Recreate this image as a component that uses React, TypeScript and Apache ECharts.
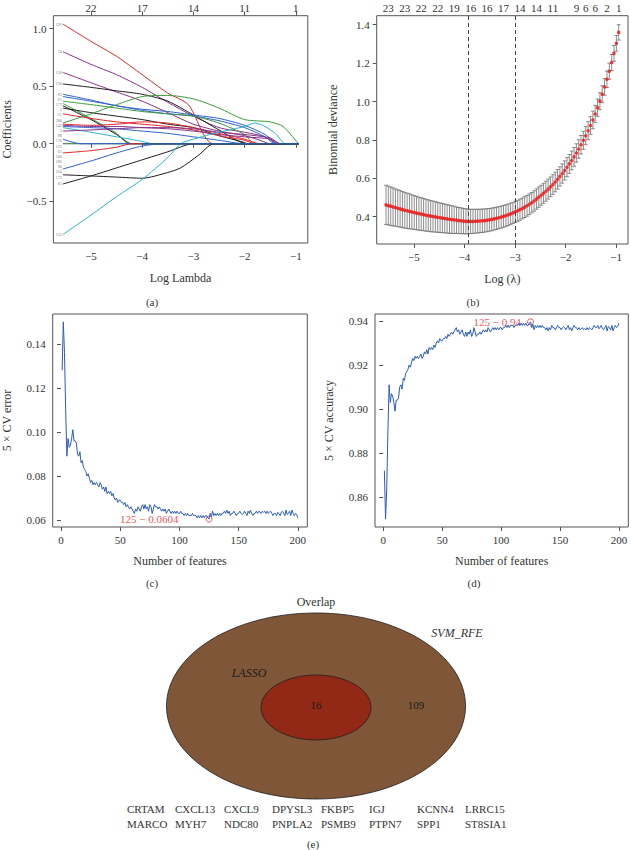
import React, { useEffect, useRef } from "react";
import * as echarts from "echarts";

const SERIF = "'Liberation Serif', 'DejaVu Serif', serif";
const INK = "#333333";
const FRAME = "#555555";

// ---------- (a) LASSO coefficient paths ----------
const aXTicks = [-5, -4, -3, -2, -1];
const aTopLabels = ["22", "17", "14", "11", "1"];
const aYTicks = [-0.5, 0, 0.5, 1.0];
const BLACK = "#1c1c1c", RED = "#e2242a", GREEN = "#3a9b3a", BLUE = "#2d5fd0", CYAN = "#27b6c8", PURPLE = "#86308a";
type Path = { label: string; color: string; points: number[][] };
const coefPaths: Path[] = [
  { label: "126", color: RED, points: [[-5.55, 1.04], [-5.0, 0.89], [-4.5, 0.76], [-4.0, 0.6], [-3.5, 0.44], [-3.1, 0.34], [-2.61, 0]] },
  { label: "74", color: PURPLE, points: [[-5.55, 0.8], [-5.0, 0.69], [-4.5, 0.6], [-4.0, 0.49], [-3.5, 0.36], [-3.0, 0.24], [-2.5, 0.14], [-2.0, 0.1], [-1.6, 0.06], [-1.35, 0]] },
  { label: "158", color: PURPLE, points: [[-5.55, 0.62], [-5.0, 0.53], [-4.5, 0.45], [-4.0, 0.37], [-3.5, 0.27], [-3.0, 0.17], [-2.5, 0.11], [-2.0, 0.07], [-1.7, 0.03], [-1.5, 0]] },
  { label: "130", color: BLACK, points: [[-5.55, 0.52], [-5.0, 0.49], [-4.5, 0.46], [-4.0, 0.43], [-3.5, 0.37], [-3.0, 0.25], [-2.5, 0.12], [-1.95, 0]] },
  { label: "66", color: BLUE, points: [[-5.55, 0.43], [-5.0, 0.38], [-4.5, 0.33], [-4.0, 0.3], [-3.5, 0.28], [-3.0, 0.25], [-2.5, 0.22], [-2.0, 0.16], [-1.6, 0.08], [-1.35, 0]] },
  { label: "61", color: BLUE, points: [[-5.55, 0.41], [-5.0, 0.37], [-4.5, 0.33], [-4.0, 0.29], [-3.5, 0.26], [-3.0, 0.24], [-2.5, 0.2], [-2.0, 0.14], [-1.6, 0.06], [-1.4, 0]] },
  { label: "172", color: GREEN, points: [[-5.55, 0.37], [-5.0, 0.34], [-4.5, 0.31], [-4.0, 0.28], [-3.5, 0.26], [-3.0, 0.24], [-2.5, 0.18], [-2.0, 0.08], [-1.8, 0]] },
  { label: "5", color: GREEN, points: [[-5.55, 0.35], [-5.0, 0.22], [-4.5, 0.09], [-4.25, 0]] },
  { label: "51", color: BLACK, points: [[-5.55, 0.33], [-5.0, 0.21], [-4.5, 0.08], [-4.2, 0]] },
  { label: "200", color: BLACK, points: [[-5.55, 0.31], [-5.0, 0.27], [-4.5, 0.24], [-4.0, 0.21], [-3.5, 0.17], [-3.0, 0.14], [-2.5, 0.07], [-2.0, 0.01], [-1.95, 0]] },
  { label: "142", color: RED, points: [[-5.55, 0.26], [-5.0, 0.22], [-4.5, 0.19], [-4.0, 0.17], [-3.5, 0.15], [-3.0, 0.12], [-2.5, 0.07], [-2.0, 0.03], [-1.8, 0]] },
  { label: "2", color: GREEN, points: [[-5.55, 0.18], [-5.0, 0.26], [-4.5, 0.34], [-4.0, 0.41], [-3.5, 0.42], [-3.0, 0.39], [-2.5, 0.31], [-2.0, 0.21], [-1.5, 0.19], [-1.25, 0.15], [-0.95, 0]] },
  { label: "88", color: RED, points: [[-5.55, 0.17], [-5.0, 0.16], [-4.5, 0.17], [-4.0, 0.19], [-3.5, 0.18], [-3.0, 0.14], [-2.5, 0.09], [-2.0, 0.04], [-1.7, 0]] },
  { label: "176", color: PURPLE, points: [[-5.55, 0.16], [-5.0, 0.15], [-4.5, 0.15], [-4.0, 0.14], [-3.5, 0.13], [-3.0, 0.11], [-2.5, 0.08], [-2.0, 0.06], [-1.5, 0.04], [-1.3, 0]] },
  { label: "132", color: BLUE, points: [[-5.55, 0.15], [-5.0, 0.14], [-4.5, 0.13], [-4.0, 0.11], [-3.5, 0.09], [-3.0, 0.06], [-2.5, 0.03], [-2.0, 0]] },
  { label: "62", color: CYAN, points: [[-5.55, 0.14], [-5.0, 0.1], [-4.5, 0.06], [-4.0, 0.02], [-3.8, 0]] },
  { label: "106", color: PURPLE, points: [[-5.55, 0.11], [-5.0, 0.12], [-4.5, 0.13], [-4.0, 0.14], [-3.5, 0.14], [-3.0, 0.13], [-2.5, 0.1], [-2.0, 0.08], [-1.5, 0.05], [-1.3, 0]] },
  { label: "186", color: BLUE, points: [[-5.55, 0.04], [-5.2, 0]] },
  { label: "90", color: RED, points: [[-5.55, -0.08], [-5.0, -0.06], [-4.5, -0.03], [-4.2, 0]] },
  { label: "224", color: BLUE, points: [[-5.55, -0.22], [-5.0, -0.15], [-4.5, -0.08], [-4.0, -0.02], [-3.6, 0]] },
  { label: "173", color: BLACK, points: [[-5.55, -0.27], [-5.0, -0.28], [-4.5, -0.29], [-4.0, -0.3], [-3.5, -0.25], [-3.25, -0.21], [-2.9, -0.1], [-2.6, 0]] },
  { label: "83", color: BLACK, points: [[-5.55, -0.35], [-5.0, -0.28], [-4.5, -0.21], [-4.0, -0.14], [-3.5, -0.07], [-3.0, 0]] },
  { label: "155", color: CYAN, points: [[-5.55, -0.79], [-5.0, -0.62], [-4.5, -0.46], [-4.0, -0.31], [-3.5, -0.12], [-3.25, 0], [-3.0, 0.04], [-2.5, 0.1], [-2.0, 0.15], [-1.8, 0.18], [-1.6, 0.15], [-1.4, 0.09], [-1.2, 0]] },
];
const aZeroLine = [[-5.55, 0], [-0.95, 0]];

// ---------- (b) cross-validated binomial deviance ----------
const logLambda = [
  -5.55, -5.504, -5.457, -5.411, -5.364, -5.318, -5.271, -5.225, -5.178, -5.132,
  -5.085, -5.039, -4.992, -4.946, -4.899, -4.853, -4.807, -4.76, -4.714, -4.667,
  -4.621, -4.574, -4.528, -4.481, -4.435, -4.388, -4.342, -4.295, -4.249, -4.203,
  -4.156, -4.11, -4.063, -4.017, -3.97, -3.924, -3.877, -3.831, -3.784, -3.738,
  -3.691, -3.645, -3.598, -3.552, -3.506, -3.459, -3.413, -3.366, -3.32, -3.273,
  -3.227, -3.18, -3.134, -3.087, -3.041, -2.994, -2.948, -2.902, -2.855, -2.809,
  -2.762, -2.716, -2.669, -2.623, -2.576, -2.53, -2.483, -2.437, -2.39, -2.344,
  -2.297, -2.251, -2.205, -2.158, -2.112, -2.065, -2.019, -1.972, -1.926, -1.879,
  -1.833, -1.786, -1.74, -1.694, -1.647, -1.601, -1.554, -1.508, -1.461, -1.415,
  -1.368, -1.322, -1.275, -1.229, -1.182, -1.136, -1.089, -1.043, -0.996, -0.95,
];
const devianceMean = [
  0.462, 0.458, 0.455, 0.451, 0.448, 0.444, 0.441, 0.437, 0.434, 0.431, 0.428, 0.425,
  0.422, 0.419, 0.416, 0.414, 0.411, 0.408, 0.406, 0.403, 0.401, 0.399, 0.397, 0.395,
  0.393, 0.391, 0.389, 0.387, 0.385, 0.384, 0.382, 0.38, 0.379, 0.377, 0.376, 0.375,
  0.3755, 0.376, 0.3765, 0.377, 0.378, 0.379, 0.38, 0.382, 0.384, 0.386, 0.389, 0.392,
  0.395, 0.398, 0.402, 0.406, 0.41, 0.415, 0.42, 0.426, 0.431, 0.437, 0.443, 0.45,
  0.457, 0.465, 0.473, 0.482, 0.492, 0.502, 0.512, 0.522, 0.533, 0.544, 0.556, 0.568,
  0.581, 0.595, 0.61, 0.625, 0.641, 0.658, 0.675, 0.693, 0.712, 0.732, 0.753, 0.775,
  0.798, 0.822, 0.848, 0.875, 0.904, 0.935, 0.968, 1.002, 1.038, 1.076, 1.116, 1.158,
  1.203, 1.251, 1.303, 1.36,
];
const devianceSE = [
  0.102, 0.101, 0.1, 0.099, 0.097, 0.096, 0.095, 0.094, 0.093, 0.092, 0.091, 0.089,
  0.088, 0.087, 0.086, 0.085, 0.084, 0.083, 0.082, 0.081, 0.08, 0.079, 0.078, 0.077,
  0.076, 0.075, 0.074, 0.073, 0.072, 0.071, 0.069, 0.068, 0.067, 0.066, 0.065, 0.064,
  0.063, 0.063, 0.062, 0.062, 0.061, 0.061, 0.06, 0.06, 0.059, 0.059, 0.058, 0.058,
  0.057, 0.057, 0.057, 0.056, 0.056, 0.056, 0.055, 0.055,
  0.055, 0.055, 0.054, 0.054, 0.054, 0.054, 0.053, 0.053, 0.053, 0.053, 0.052, 0.052,
  0.052, 0.052, 0.051, 0.051, 0.051, 0.051, 0.05, 0.05,
  0.05, 0.05, 0.049, 0.049, 0.049, 0.048, 0.048, 0.048, 0.047, 0.047, 0.047, 0.046,
  0.046, 0.045, 0.045, 0.044, 0.044, 0.043, 0.043, 0.042, 0.042, 0.041, 0.041, 0.04,
];
const lambdaMinLog = -3.924;
const lambda1seLog = -2.994;
const bXTicks = [-5, -4, -3, -2, -1];
const bYTicks = [0.4, 0.6, 0.8, 1.0, 1.2, 1.4];
const bTopAt = [-5.504, -5.178, -4.853, -4.528, -4.203, -3.877, -3.552, -3.227, -2.902, -2.576, -2.251, -1.786, -1.601, -1.415, -1.182, -0.95];
const bTopLabels = ["23", "23", "22", "22", "19", "16", "16", "17", "14", "14", "11", "9", "6", "6", "2", "1"];

// ---------- (c)/(d) SVM-RFE 5-fold CV ----------
const cvError = [
  0.128, 0.15, 0.136, 0.11, 0.089, 0.097, 0.093, 0.094, 0.097, 0.101,
  0.096, 0.096, 0.095, 0.09, 0.089, 0.091, 0.086, 0.087, 0.084, 0.083,
  0.082, 0.08, 0.081, 0.079, 0.077, 0.078, 0.076, 0.077, 0.076, 0.077,
  0.076, 0.075, 0.077, 0.076, 0.074, 0.075, 0.073, 0.075, 0.072, 0.073,
  0.072, 0.073, 0.071, 0.072, 0.07, 0.069, 0.07, 0.068, 0.069, 0.069,
  0.068, 0.068, 0.067, 0.068, 0.066, 0.067, 0.066, 0.065, 0.066, 0.065,
  0.064, 0.063, 0.065, 0.064, 0.066, 0.065, 0.064, 0.066, 0.067, 0.065,
  0.067, 0.065, 0.066, 0.064, 0.067, 0.066, 0.063, 0.065, 0.067, 0.066,
  0.066, 0.065, 0.066, 0.065, 0.064, 0.065, 0.064, 0.065, 0.063, 0.064,
  0.065, 0.064, 0.063, 0.064, 0.063, 0.064, 0.063, 0.064, 0.063, 0.063,
  0.064, 0.063, 0.063, 0.062, 0.063, 0.062, 0.063, 0.062, 0.062, 0.062,
  0.063, 0.062, 0.062, 0.062, 0.061, 0.062, 0.061, 0.062, 0.061, 0.062,
  0.061, 0.062, 0.062, 0.061, 0.0604, 0.063, 0.0615, 0.064, 0.062, 0.063,
  0.062, 0.063, 0.062, 0.063, 0.062, 0.063, 0.063, 0.064, 0.063, 0.0645,
  0.063, 0.064, 0.062, 0.063, 0.063, 0.064, 0.063, 0.062, 0.063, 0.063,
  0.064, 0.063, 0.0625, 0.063, 0.064, 0.063, 0.062, 0.064, 0.063, 0.0645,
  0.063, 0.062, 0.063, 0.063, 0.064, 0.063, 0.064, 0.0635, 0.063, 0.064,
  0.0635, 0.064, 0.063, 0.064, 0.063, 0.0635, 0.064, 0.063, 0.062, 0.063,
  0.063, 0.062, 0.0635, 0.063, 0.062, 0.0635, 0.064, 0.063, 0.062, 0.0645,
  0.0625, 0.063, 0.064, 0.062, 0.0645, 0.063, 0.062, 0.063, 0.0625, 0.061,
];
// accuracy is the complement of the CV error read above
const cvAccuracy = cvError.map((e) => +(1 - e).toFixed(4));
const bestFeatures = 125;
const bestError = 0.0604;
const bestAccuracy = 0.94;
const featXTicks = [0, 50, 100, 150, 200];
const cYTicks = [0.06, 0.08, 0.1, 0.12, 0.14];
const dYTicks = [0.86, 0.88, 0.9, 0.92, 0.94];

// ---------- (e) overlap ----------
const vennCounts = { overlap: 16, svmOnly: 109 };
const genesRow1 = ["CRTAM", "CXCL13", "CXCL9", "DPYSL3", "FKBP5", "IGJ", "KCNN4", "LRRC15"];
const genesRow2 = ["MARCO", "MYH7", "NDC80", "PNPLA2", "PSMB9", "PTPN7", "SPP1", "ST8SIA1"];

const fmtMinus = (v: number, d: number) => (v < 0 ? "\u2212" + Math.abs(v).toFixed(d) : v.toFixed(d));

function valueAxis(gridIndex: number, min: number, max: number, ticks: number[], digits: number, extra: any = {}) {
  return {
    type: "value",
    gridIndex,
    min,
    max,
    axisLine: { show: false },
    splitLine: { show: false },
    axisTick: { show: true, length: 4, customValues: ticks, lineStyle: { color: FRAME, width: 1 } },
    axisLabel: {
      show: true,
      customValues: ticks,
      color: INK,
      fontSize: 11,
      fontFamily: SERIF,
      margin: 7,
      formatter: (v: number) => fmtMinus(v, digits),
    },
    nameTextStyle: { color: INK, fontSize: 12, fontFamily: SERIF },
    ...extra,
  };
}

function topAxis(gridIndex: number, min: number, max: number, at: number[], labels: string[], ticks: boolean) {
  return {
    type: "value",
    gridIndex,
    position: "top",
    min,
    max,
    axisLine: { show: false },
    splitLine: { show: false },
    axisTick: { show: ticks, length: 4, customValues: at, lineStyle: { color: FRAME } },
    axisLabel: {
      show: true,
      customValues: at,
      color: INK,
      fontSize: 11,
      fontFamily: SERIF,
      margin: 2,
      formatter: (v: number) => {
        const i = at.findIndex((a) => Math.abs(a - v) < 1e-6);
        return i >= 0 ? labels[i] : "";
      },
    },
  };
}

function txt(text: string, x: number, y: number, size = 11, extra: any = {}) {
  return {
    type: "text",
    x,
    y,
    silent: true,
    style: { text, fontSize: size, fontFamily: SERIF, fill: INK, align: "center", verticalAlign: "middle", ...extra },
  };
}

// vertical stacking of the tiny path labels so they do not collide (layout only)
function pathLabelItems(pxPerUnit: number, gap: number) {
  const order = coefPaths.map((p, i) => ({ i, v: p.points[0][1] })).sort((a, b) => b.v - a.v);
  const placed: number[] = new Array(coefPaths.length);
  let prev = Infinity;
  order.forEach(({ i, v }) => {
    const y = Math.min(v, prev - gap);
    placed[i] = y;
    prev = y;
  });
  return coefPaths.map((p, i) => ({
    name: p.label,
    value: p.points[0],
    label: { offset: [0, (p.points[0][1] - placed[i]) * pxPerUnit] },
  }));
}

function buildOption() {
  const grid = (left: number, top: number, width: number, height: number) => ({
    left, top, width, height, show: true, borderColor: FRAME, borderWidth: 1, backgroundColor: "transparent",
    containLabel: false, outerBoundsMode: "none",
  });

  const aMin = -5.734, aMax = -0.766;
  const aYMin = -0.863, aYMax = 1.113;
  const aHeight = 227.3;
  const xAxis = [
    valueAxis(0, aMin, aMax, aXTicks, 0, { name: "Log Lambda", nameLocation: "middle", nameGap: 29 }),
    topAxis(0, aMin, aMax, aXTicks, aTopLabels, true),
    valueAxis(1, aMin, aMax, bXTicks, 0, { name: "Log (\u03bb)", nameLocation: "middle", nameGap: 29 }),
    topAxis(1, aMin, aMax, bTopAt, bTopLabels, false),
    valueAxis(2, -6.96, 207.96, featXTicks, 0, { name: "Number of features", nameLocation: "middle", nameGap: 28 }),
    valueAxis(3, -6.96, 207.96, featXTicks, 0, { name: "Number of features", nameLocation: "middle", nameGap: 28 }),
  ];
  const yAxis = [
    valueAxis(0, aYMin, aYMax, aYTicks, 1, { name: "Coefficients", nameLocation: "middle", nameGap: 40 }),
    valueAxis(1, 0.258, 1.447, bYTicks, 1, { name: "Binomial deviance", nameLocation: "middle", nameGap: 38 }),
    valueAxis(2, 0.05682, 0.15358, cYTicks, 2, { name: "5 \u00d7 CV error", nameLocation: "middle", nameGap: 40 }),
    valueAxis(3, 0.846416, 0.943184, dYTicks, 2, { name: "5 \u00d7 CV accuracy", nameLocation: "middle", nameGap: 40 }),
  ];

  const series: any[] = [];
  // (a) coefficient paths
  series.push({
    type: "line", xAxisIndex: 0, yAxisIndex: 0, data: aZeroLine, showSymbol: false, silent: true,
    lineStyle: { color: "#1f6b3a", width: 1.2 },
  });
  coefPaths.forEach((p) => {
    const pts = p.points.slice();
    const last = pts[pts.length - 1];
    if (last[0] < -0.95) pts.push([-0.95, 0]);
    series.push({
      type: "line", xAxisIndex: 0, yAxisIndex: 0, data: pts, showSymbol: false, silent: true,
      smooth: 0.25, lineStyle: { color: p.color, width: 1 },
    });
  });
  series.push({
    type: "line", xAxisIndex: 0, yAxisIndex: 0, data: [[-4.0, 0], [-0.95, 0]], showSymbol: false, silent: true,
    lineStyle: { color: "#2a5a9a", width: 1.3 },
  });
  series.push({
    type: "scatter", xAxisIndex: 0, yAxisIndex: 0, symbolSize: 0, silent: true,
    data: pathLabelItems(aHeight / (aYMax - aYMin), 0.045),
    label: { show: true, position: "left", distance: 1, formatter: "{b}", fontSize: 4, lineHeight: 4, fontFamily: SERIF, color: "#444" },
  });

  // (b) error bars + mean
  series.push({
    type: "custom", xAxisIndex: 2, yAxisIndex: 1, silent: true,
    data: logLambda.map((x, i) => [x, devianceMean[i] - devianceSE[i], devianceMean[i] + devianceSE[i]]),
    encode: { x: 0, y: [1, 2] },
    renderItem: (_p: any, api: any) => {
      const x = api.value(0);
      const lo = api.coord([x, api.value(1)]);
      const hi = api.coord([x, api.value(2)]);
      const w = 2;
      const st = { stroke: "#707070", lineWidth: 0.8 };
      return {
        type: "group",
        children: [
          { type: "line", shape: { x1: hi[0], y1: hi[1], x2: lo[0], y2: lo[1] }, style: st },
          { type: "line", shape: { x1: hi[0] - w, y1: hi[1], x2: hi[0] + w, y2: hi[1] }, style: st },
          { type: "line", shape: { x1: lo[0] - w, y1: lo[1], x2: lo[0] + w, y2: lo[1] }, style: st },
        ],
      };
    },
  });
  series.push({
    type: "scatter", xAxisIndex: 2, yAxisIndex: 1, silent: true, symbolSize: 3.6,
    itemStyle: { color: "#ee1414" },
    data: logLambda.map((x, i) => [x, devianceMean[i]]),
    markLine: {
      silent: true, symbol: "none", label: { show: false },
      lineStyle: { color: "#444", type: [4, 3], width: 1 },
      data: [{ xAxis: lambdaMinLog }, { xAxis: lambda1seLog }],
    },
  });

  // (c) error
  series.push({
    type: "line", xAxisIndex: 4, yAxisIndex: 2, showSymbol: false, silent: true,
    lineStyle: { color: "#2c5cb8", width: 1 },
    data: cvError.map((v, i) => [i + 1, v]),
  });
  series.push({
    type: "scatter", xAxisIndex: 4, yAxisIndex: 2, silent: true, symbol: "circle", symbolSize: 6,
    itemStyle: { color: "transparent", borderColor: "#e8262b", borderWidth: 1 },
    data: [[bestFeatures, bestError]],
    label: { show: true, position: "left", distance: 27, formatter: `${bestFeatures} \u2212 ${bestError}`, color: "#e8262b", fontSize: 11, fontFamily: SERIF },
  });
  // (d) accuracy
  series.push({
    type: "line", xAxisIndex: 5, yAxisIndex: 3, showSymbol: false, silent: true,
    lineStyle: { color: "#2c5cb8", width: 1 },
    data: cvAccuracy.map((v, i) => [i + 1, v]),
  });
  series.push({
    type: "scatter", xAxisIndex: 5, yAxisIndex: 3, silent: true, symbol: "circle", symbolSize: 6,
    itemStyle: { color: "transparent", borderColor: "#e8262b", borderWidth: 1 },
    data: [[bestFeatures, 1 - bestError]],
    label: { show: true, position: "left", distance: 6, formatter: `${bestFeatures} \u2212 ${bestAccuracy}`, color: "#e8262b", fontSize: 11, fontFamily: SERIF },
  });

  const geneCols = [127, 175, 224, 272, 321, 369, 417, 465];
  const graphic: any[] = [
    txt("(a)", 152, 302),
    txt("(b)", 473, 302),
    txt("(c)", 152, 583),
    txt("(d)", 474, 583),
    {
      type: "ellipse", silent: true, shape: { cx: 316, cy: 706, rx: 149.5, ry: 93 },
      style: { fill: "#7f5738", stroke: "#1e1e1e", lineWidth: 0.8 },
    },
    {
      type: "ellipse", silent: true, shape: { cx: 316, cy: 707.5, rx: 55, ry: 32.5 },
      style: { fill: "#922816", stroke: "#1e1e1e", lineWidth: 0.8 },
    },
    txt("Overlap", 316, 602, 12),
    txt("SVM_RFE", 457, 633, 12, { fontStyle: "italic" }),
    txt("LASSO", 249, 673, 12, { fontStyle: "italic", fill: "#1a1a1a" }),
    txt(String(vennCounts.overlap), 316, 705, 11, { fill: "#1a1a1a" }),
    txt(String(vennCounts.svmOnly), 416, 705, 11, { fill: "#1a1a1a" }),
    ...genesRow1.map((g, i) => txt(g, geneCols[i], 809, 11, { align: "left" })),
    ...genesRow2.map((g, i) => txt(g, geneCols[i], 824, 11, { align: "left" })),
    txt("(e)", 313, 844),
  ];

  return {
    animation: false,
    backgroundColor: "#ffffff",
    textStyle: { fontFamily: SERIF },
    grid: [
      grid(53.4, 15.7, 254.4, aHeight),
      grid(376.7, 15.7, 251.3, 228.3),
      grid(52.7, 314, 254.6, 213),
      grid(375, 314, 253.3, 213),
    ],
    xAxis,
    yAxis,
    series,
    graphic,
  };
}

export default function App() {
  const ref = useRef<HTMLDivElement>(null);
  useEffect(() => {
    if (!ref.current) return;
    const chart = echarts.init(ref.current, null, { renderer: "svg" });
    chart.setOption(buildOption() as any);
    return () => chart.dispose();
  }, []);
  return <div ref={ref} style={{ position: "absolute", left: 0, top: 0, width: 631, height: 850 }} />;
}
